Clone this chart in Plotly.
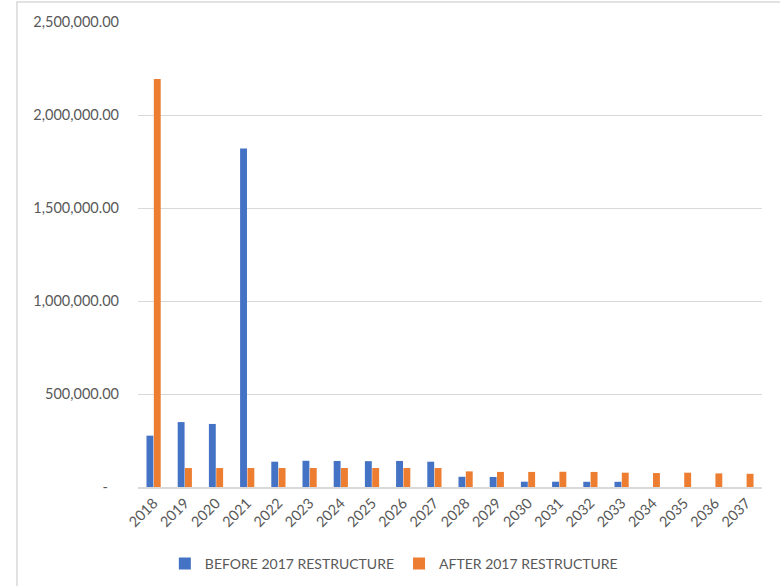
import plotly.graph_objects as go

years = [str(y) for y in range(2018, 2038)]
before = [276000, 349000, 339000, 1820000, 136000, 141000, 140000, 139000, 140000, 136000,
          55000, 54000, 28500, 28500, 28000, 28000, None, None, None, None]
after = [2194000, 102000, 102000, 102000, 102000, 102000, 102000, 102000, 102000, 102000,
         84000, 81000, 81000, 82000, 81000, 77000, 75000, 77000, 73000, 71000]

ytick_vals = [0, 500000, 1000000, 1500000, 2000000, 2500000]
ytick_text = ["-\u00a0\u00a0\u00a0", "500,000.00", "1,000,000.00", "1,500,000.00",
              "2,000,000.00", "2,500,000.00"]

FONT = "Lato, 'Liberation Sans', sans-serif"
GREY = "#595959"

fig = go.Figure()
fig.add_trace(go.Bar(x=years, y=before, name="BEFORE 2017 RESTRUCTURE",
                     marker=dict(color="#4472C4", line=dict(width=0))))
fig.add_trace(go.Bar(x=years, y=after, name="AFTER 2017 RESTRUCTURE",
                     marker=dict(color="#ED7D31", line=dict(width=0))))

fig.update_layout(
    width=780, height=586,
    margin=dict(l=138, r=18, t=22, b=99, autoexpand=False),
    paper_bgcolor="white", plot_bgcolor="white",
    barmode="group", bargap=0.53, bargroupgap=0.06,
    font=dict(family=FONT, size=14.5, color=GREY),
    showlegend=True,
    legend=dict(orientation="h", x=0.41, xanchor="center", y=-0.131, yanchor="top",
                font=dict(size=14, color=GREY), itemwidth=30, traceorder="normal"),
    xaxis=dict(type="category", tickangle=-45, showgrid=False,
               showline=True, linecolor="#d9d9d9", linewidth=2,
               ticks="", tickfont=dict(size=14.5, color=GREY)),
    yaxis=dict(range=[0, 2500000], tickvals=ytick_vals, ticktext=ytick_text,
               showgrid=True, gridcolor="#d9d9d9", gridwidth=1,
               zeroline=False, showline=False, ticks="",
               ticklabelstandoff=18, tickfont=dict(size=14.5, color=GREY)),
    shapes=[dict(type="rect", xref="paper", yref="paper",
                 x0=-0.194, x1=1.05, y0=-0.25, y1=1.043,
                 line=dict(color="#d9d9d9", width=1.5), fillcolor="rgba(0,0,0,0)",
                 layer="below")],
)

fig.write_html("out.html")
